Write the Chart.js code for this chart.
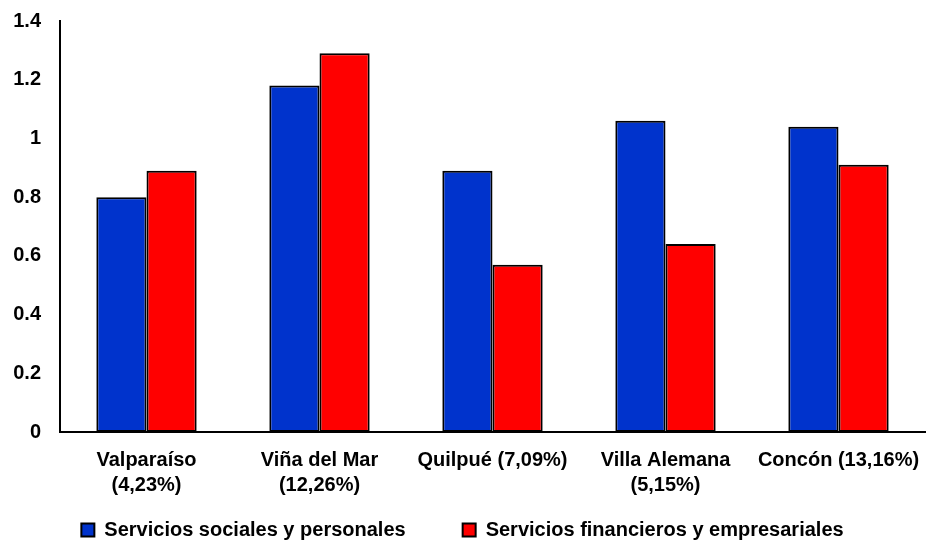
<!DOCTYPE html>
<html>
<head>
<meta charset="utf-8">
<script src="https://cdn.jsdelivr.net/npm/chart.js@4"></script>
<style>
    html, body { margin: 0; padding: 0; background: #fff; }
    #wrap { width: 927px; height: 543px; position: relative; }
</style>
</head>
<body>
<div id="wrap"><canvas id="chart"></canvas></div>
<script>
// Data
const categories = [
    ['Valparaíso', '(4,23%)'],
    ['Viña del Mar', '(12,26%)'],
    'Quilpué (7,09%)',
    ['Villa Alemana', '(5,15%)'],
    'Concón (13,16%)'
];
const seriesNames = ['Servicios sociales y personales', 'Servicios financieros y empresariales'];
const socialesValues = [0.80, 1.18, 0.89, 1.06, 1.04];
const financierosValues = [0.89, 1.29, 0.57, 0.64, 0.91];
const yTicks = [0, 0.2, 0.4, 0.6, 0.8, 1, 1.2, 1.4];

const font = { family: '"Liberation Sans", Arial, sans-serif', size: 20, weight: 'bold' };

// legend items are spaced wide apart but sit close under the axis labels:
// keep the box short and start drawing it a bit higher
const legendTweak = {
    id: 'legendTweak',
    beforeInit(chart) {
        const lg = chart.legend;
        if (!lg) return;
        const origFit = lg.fit;
        lg.fit = function () { origFit.call(this); this.height = 47; };
        const origDraw = lg.draw;
        lg.draw = function () {
            const t = this.top;
            this.top = t - 33;
            origDraw.apply(this, arguments);
            this.top = t;
        };
    }
};

new Chart(document.getElementById('chart'), {
    type: 'bar',
    data: {
        labels: categories,
        datasets: [
            {
                label: seriesNames[0],
                data: socialesValues,
                backgroundColor: '#0033CC',
                borderColor: '#000',
                borderWidth: 2,
                borderSkipped: false
            },
            {
                label: seriesNames[1],
                data: financierosValues,
                backgroundColor: '#FF0000',
                borderColor: '#000',
                borderWidth: 2,
                borderSkipped: false
            }
        ]
    },
    plugins: [legendTweak],
    options: {
        responsive: true,
        maintainAspectRatio: false,
        animation: false,
        layout: { padding: { top: 21, right: 2, left: 0, bottom: 0 } },
        datasets: { bar: { categoryPercentage: 0.58, barPercentage: 1 } },
        plugins: {
            legend: {
                position: 'bottom',
                labels: {
                    font: font,
                    color: '#000',
                    boxWidth: 13,
                    boxHeight: 13,
                    padding: 57
                }
            },
            tooltip: { enabled: false }
        },
        scales: {
            x: {
                afterFit: (s) => { s.height = 64; s.paddingLeft = 0; s.paddingRight = 0; },
                grid: { display: false, drawTicks: false },
                border: { display: true, color: '#000', width: 2 },
                ticks: { font: { ...font, lineHeight: 1.25 }, color: '#000', maxRotation: 0, autoSkip: false, padding: 16 }
            },
            y: {
                min: 0,
                max: 1.4,
                afterFit: (s) => { s.width = 60; s.paddingTop = 0; s.paddingBottom = 0; },
                afterBuildTicks: (s) => { s.ticks = yTicks.map(v => ({ value: v })); },
                grid: { display: false, drawTicks: false },
                border: { display: true, color: '#000', width: 2 },
                ticks: { font: font, color: '#000', padding: 19, callback: (v) => String(v) }
            }
        }
    }
});
</script>
</body>
</html>
